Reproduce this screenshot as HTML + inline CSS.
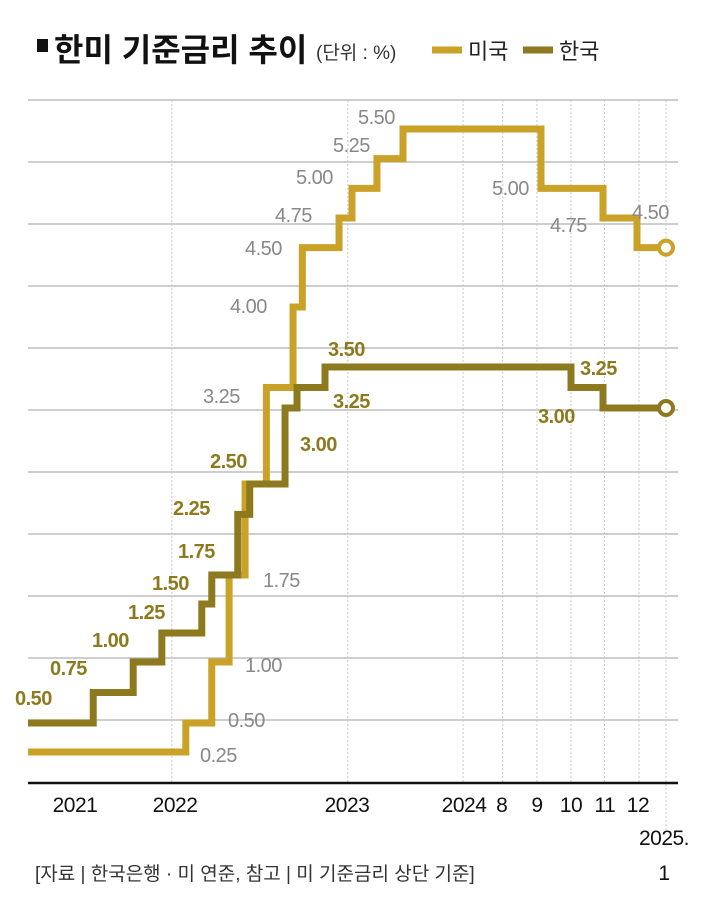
<!DOCTYPE html>
<html><head><meta charset="utf-8">
<style>
html,body{margin:0;padding:0;background:#fff;}
svg{display:block;}
text{font-family:"Liberation Sans Narrow","Liberation Sans","Noto Sans CJK KR",sans-serif;}
.kr{font-family:"Liberation Sans","Noto Sans CJK KR",sans-serif;}
</style></head><body>
<svg id="chart" width="702" height="901" viewBox="0 0 702 901" xmlns="http://www.w3.org/2000/svg">
<rect x="37" y="39" width="11" height="13" fill="#111"/>
<text class="kr" x="54" y="61" font-size="32" font-weight="bold" fill="#111">한미 기준금리 추이</text>
<text class="kr" x="316" y="59" font-size="19" fill="#333">(단위 : %)</text>
<line x1="432" y1="50" x2="462" y2="50" stroke="#c9a227" stroke-width="7"/>
<text class="kr" x="468" y="59" font-size="22" fill="#222">미국</text>
<line x1="523" y1="50" x2="553" y2="50" stroke="#8d7a1e" stroke-width="7"/>
<text class="kr" x="559" y="59" font-size="22" fill="#222">한국</text>
<g id="grid"></g>
<g id="series"></g>
<g id="labels" font-size="20" letter-spacing="-0.5"></g>
<g id="xaxis" font-size="21" fill="#111" letter-spacing="-0.5"></g>
<text class="kr" x="35" y="880" font-size="19" fill="#333">[자료 | 한국은행 · 미 연준, 참고 | 미 기준금리 상단 기준]</text>
</svg>
<script>
// data (dates in months since 2021-01)
const krDates = [2.1, 7, 10, 12.15, 15.15, 15.9, 17.85, 18.75, 21.4, 22.3, 24.4, 45.4, 46.45];
const krValues = [0.5, 0.75, 1.0, 1.25, 1.5, 1.75, 2.25, 2.5, 3.0, 3.25, 3.5, 3.25, 3.0];
const usDates = [2.1, 13.95, 15.9, 17.2, 18.4, 20.0, 22.0, 22.7, 25.57, 26.65, 28.73, 30.9, 44.6, 46.45, 47.6];
const usValues = [0.25, 0.5, 1.0, 1.75, 2.5, 3.25, 4.0, 4.5, 4.75, 5.0, 5.25, 5.5, 5.0, 4.75, 4.5];
const endDate = 48.5;
const tickDates = [5.63, 13.14, 26.23, 36.96, 40.7, 44.2, 45.4, 46.51, 47.63];
const tickLabels = ["2021", "2022", "2023", "2024", "8", "9", "10", "11", "12"];
const gridDates = [12.9, 26.3, 36.86, 40.8, 44.2, 45.4, 46.5, 47.66, 48.5];
const krLabelText = ["0.50","0.75","1.00","1.25","1.50","1.75","2.25","2.50","3.00","3.25","3.50","3.25","3.00"];
const usLabelText = ["0.25","0.50","1.00","1.75","3.25","4.00","4.50","4.75","5.00","5.25","5.50","5.00","4.75","4.50"];
</script>
<script>
const xAnch=[[0,0],[24.4,325],[30.9,403],[44.6,541],[45.4,571],[46.45,603],[47.6,637],[48.5,666]];
const yAnch=[[0,782],[0.25,752],[0.5,723],[1,662],[1.75,575],[2.5,484],[3,408],[3.5,367],[4,307],[5.5,129]];
function interp(a,v){for(let i=0;i<a.length-1;i++){if(v<=a[i+1][0]){const t=(v-a[i][0])/(a[i+1][0]-a[i][0]);return a[i][1]+t*(a[i+1][1]-a[i][1]);}}const n=a.length;return a[n-2][1]+(v-a[n-2][0])/(a[n-1][0]-a[n-2][0])*(a[n-1][1]-a[n-2][1]);}
function X(m){return interp(xAnch,m);}
function Y(v){return interp(yAnch,v);}
const NS="http://www.w3.org/2000/svg";
function mk(tag,attrs,parent){const e=document.createElementNS(NS,tag);for(const k in attrs)e.setAttribute(k,attrs[k]);parent.appendChild(e);return e;}
const grid=document.getElementById('grid');
for(let k=0;k<=10;k++){
  const l=mk('line',{x1:28,x2:678,y1:100+62*k,y2:100+62*k,stroke:'#b0b0b0','stroke-width':1.2},grid);
  
  
}
gridDates.forEach((d,i)=>{
  const l=mk('line',{x1:X(d),x2:X(d),y1:100,y2:i===gridDates.length-1?832:783,stroke:'#c8c8c8','stroke-width':1,'stroke-dasharray':'2,2'},grid);
  
  
});
const ax=mk('line',{x1:28,x2:678,y1:783,y2:783,stroke:'#111','stroke-width':2.5},grid);


function stepPath(dates,vals){let d='M'+X(dates[0])+' '+Y(vals[0]);for(let i=1;i<vals.length;i++){d+=' H'+X(dates[i])+' V'+Y(vals[i]);}d+=' H'+(X(endDate)-7);return d;}
const ser=document.getElementById('series');
const up=mk('path',{d:stepPath(usDates,usValues),fill:'none',stroke:'#c9a227','stroke-width':7},ser);


const kp=mk('path',{d:stepPath(krDates,krValues),fill:'none',stroke:'#8d7a1e','stroke-width':7},ser);


const uc=mk('circle',{cx:X(endDate),cy:Y(usValues[usValues.length-1]),r:7,fill:'#fff',stroke:'#c9a227','stroke-width':4},ser);


const kc=mk('circle',{cx:X(endDate),cy:Y(krValues[krValues.length-1]),r:7,fill:'#fff',stroke:'#8d7a1e','stroke-width':4},ser);


const lab=document.getElementById('labels');
const krPos=[[15,705],[50,675],[92,647],[128,619],[152,590],[178,558],[173,515],[210,468],[300,451],[333,408],[328,356],[580,375],[538,423]];
const usPos=[[200,762],[228,727],[245,672],[263,587],[203,403],[230,313],[245,255],[275,222],[296,184],[333,152],[358,124],[492,195],[550,232],[632,219]];
krLabelText.forEach((t,i)=>{const e=mk('text',{x:krPos[i][0],y:krPos[i][1],fill:'#8d7a1e','font-weight':'bold'},lab);e.textContent=t;
  
  });
usLabelText.forEach((t,i)=>{const e=mk('text',{x:usPos[i][0],y:usPos[i][1],fill:'#888'},lab);e.textContent=t;
  
  });
const xa=document.getElementById('xaxis');
tickLabels.forEach((t,i)=>{const e=mk('text',{x:X(tickDates[i]),y:812,'text-anchor':'middle'},xa);e.textContent=t;
  
  });
const e1=mk('text',{x:664,y:845,'text-anchor':'middle'},xa);e1.textContent='2025.';


const e2=mk('text',{x:664,y:880,'text-anchor':'middle'},xa);e2.textContent='1';


</script>
</body></html>
